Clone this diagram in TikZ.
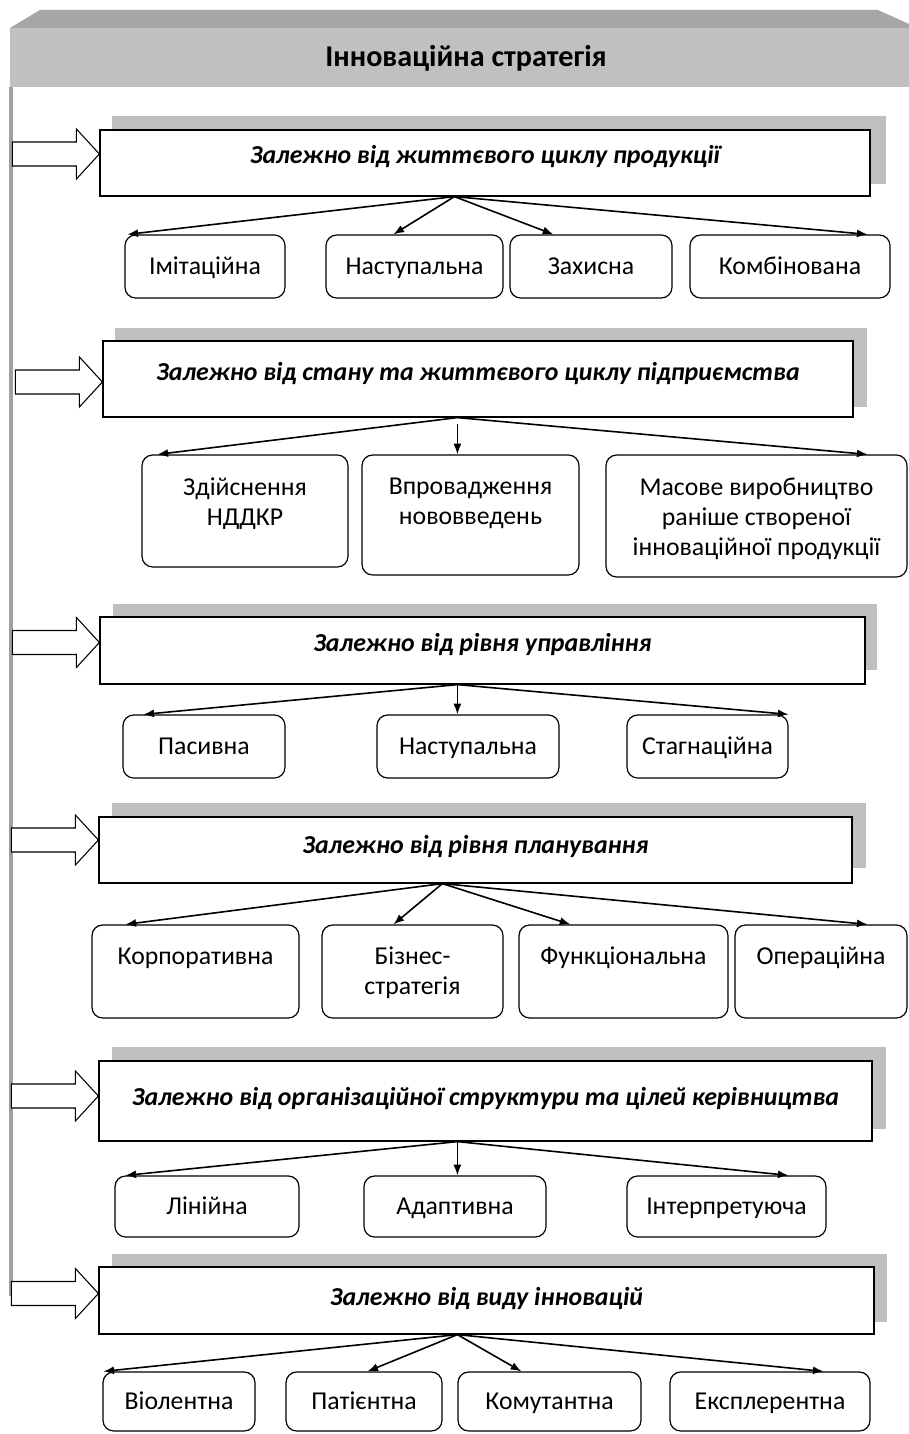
\documentclass[tikz,border=0pt]{standalone}
\usepackage{fontspec}
\setmainfont{Carlito}
\usetikzlibrary{calc,arrows.meta}
\definecolor{hdrdark}{HTML}{A6A6A6}
\definecolor{hdrlight}{HTML}{C0C0C0}
\definecolor{shgray}{HTML}{BFBFBF}
\definecolor{linegray}{HTML}{A0A0A0}
\tikzset{
 shadowbox/.style={fill=shgray, draw=none, inner sep=0pt, outer sep=0pt},
 titlebox/.style={draw=black, fill=white, line width=0.9pt, inner sep=0pt},
 childbox/.style={draw=black, fill=white, line width=0.9pt, rounded corners=8pt, inner sep=0pt},
 titletext/.style={font=\fontsize{19.4}{23}\selectfont\bfseries\itshape, inner sep=0pt, text height=0.84em, text depth=0.06em, yshift=-2pt},
 childtext/.style={font=\fontsize{19.3}{22.5}\selectfont, align=center, inner sep=0pt, text height=0.84em, text depth=0.06em, yshift=-2pt},
 multitext/.style={font=\fontsize{19.3}{22.5}\selectfont, align=center, inner sep=0pt},
 hdrtext/.style={font=\fontsize{22.6}{26}\selectfont\bfseries, inner sep=0pt, text height=0.84em, text depth=0.06em, yshift=-2pt},
 link/.style={line width=1.2pt, -{Latex[length=8pt,width=6pt]}},
 blockarrow/.style={draw=black, fill=white, line width=0.8pt},
}
\newcommand\pbox[6]{\node[#6, minimum width={(#4-#2)*0.75pt}, minimum height={(#5-#3)*0.75pt}] (#1) at ({(#2+#4)/2},{(#3+#5)/2}) {};}
\newcommand\barrow[1]{\draw[blockarrow] ($(#1)+(-87,-12)$) -- ($(#1)+(-23,-12)$) -- ($(#1)+(-23,-25)$) -- (#1) -- ($(#1)+(-23,25)$) -- ($(#1)+(-23,12)$) -- ($(#1)+(-87,12)$) -- cycle;}
\begin{document}
\begin{tikzpicture}[x=0.75pt,y=-0.75pt]
\useasboundingbox (0,0) rectangle (909,1434);
% left vertical line
\coordinate (vtop) at (11,87);
\coordinate (vbot) at (11,1296);
\draw[line width=3pt, linegray] (vtop) -- (vbot);
% header
\fill[hdrdark] (10,28) -- (40,10) -- (878,10) -- (909,24) -- (909,28) -- cycle;
\fill[hdrlight] (10,28) rectangle (909,87);
\node[hdrtext] (hdr) at (466,59) {Інноваційна стратегія};

% ---------- section 1
\pbox{sh1}{112}{116}{886}{184}{shadowbox}
\pbox{s1}{100}{130}{870}{196}{titlebox}
\node[titletext] (s1t) at ($(s1.north)+(0,26)$) {Залежно від життєвого циклу продукції};
\coordinate (a1) at ($(s1.west)+(0,-9)$);
\barrow{a1}
\pbox{c11}{125}{235}{285}{298}{childbox}
\pbox{c12}{326}{235}{503}{298}{childbox}
\pbox{c13}{510}{235}{672}{298}{childbox}
\pbox{c14}{690}{235}{890}{298}{childbox}
\node[childtext] (c11t) at (c11) {Імітаційна};
\node[childtext] (c12t) at (c12) {Наступальна};
\node[childtext] (c13t) at (c13) {Захисна};
\node[childtext] (c14t) at (c14) {Комбінована};
\coordinate (s1o) at ($(s1.south west)+(355,0)$);
\draw[link] (s1o) -- ($(c11.north west)+(3,0)$);
\draw[link] (s1o) -- ($(c12.north west)+(68,0)$);
\draw[link] (s1o) -- ($(c13.north west)+(44,0)$);
\draw[link] (s1o) -- ($(c14.north east)+(-23,0)$);

% ---------- section 2
\pbox{sh2}{115}{328}{867}{407}{shadowbox}
\pbox{s2}{103}{341}{853}{417}{titlebox}
\node[titletext] (s2t) at ($(s2.north)+(0,32)$) {Залежно від стану та життєвого циклу підприємства};
\coordinate (a2) at ($(s2.west)+(0,3)$);
\barrow{a2}
\pbox{c21}{142}{455}{348}{567}{childbox}
\pbox{c22}{362}{455}{579}{575}{childbox}
\pbox{c23}{606}{455}{907}{577}{childbox}
\node[multitext] (c21t) at ($(c21.north)+(0,49)$) {Здійснення\\НДДКР};
\node[multitext] (c22t) at ($(c22.north)+(0,49)$) {Впровадження\\нововведень};
\node[multitext] (c23t) at ($(c23.north)+(0,64)$) {Масове виробництво\\раніше створеної\\інноваційної продукції};
\coordinate (s2o) at ($(s2.south west)+(355,0)$);
\draw[link] (s2o) -- ($(c21.north west)+(16,0)$);
\draw[link] ($(s2o)+(0,6)$) -- (s2o |- c22.north);
\draw[link] (s2o) -- ($(c23.north east)+(-40,0)$);

% ---------- section 3
\pbox{sh3}{113}{604}{877}{670}{shadowbox}
\pbox{s3}{100}{617}{865}{684}{titlebox}
\node[titletext] (s3t) at ($(s3.north)+(0,27)$) {Залежно від рівня управління};
\coordinate (a3) at ($(s3.west)+(0,-8)$);
\barrow{a3}
\pbox{c31}{123}{715}{285}{778}{childbox}
\pbox{c32}{377}{715}{559}{778}{childbox}
\pbox{c33}{627}{715}{788}{778}{childbox}
\node[childtext] (c31t) at (c31) {Пасивна};
\node[childtext] (c32t) at (c32) {Наступальна};
\node[childtext] (c33t) at (c33) {Стагнаційна};
\coordinate (s3o) at ($(s3.south west)+(358,0)$);
\draw[link] (s3o) -- ($(c31.north west)+(21,0)$);
\draw[link] (s3o) -- (s3o |- c32.north);
\draw[link] (s3o) -- ($(c33.north east)+(0,0)$);

% ---------- section 4
\pbox{sh4}{112}{803}{866}{868}{shadowbox}
\pbox{s4}{99}{817}{852}{883}{titlebox}
\node[titletext] (s4t) at ($(s4.north)+(0,29)$) {Залежно від рівня планування};
\coordinate (a4) at ($(s4.west)+(0,-10)$);
\barrow{a4}
\pbox{c41}{92}{925}{299}{1018}{childbox}
\pbox{c42}{322}{925}{503}{1018}{childbox}
\pbox{c43}{519}{925}{728}{1018}{childbox}
\pbox{c44}{735}{925}{907}{1018}{childbox}
\node[childtext] (c41t) at ($(c41.north)+(0,32)$) {Корпоративна};
\node[multitext] (c42t) at ($(c42.north)+(0,48)$) {Бізнес-\\стратегія};
\node[childtext] (c43t) at ($(c43.north)+(0,32)$) {Функціональна};
\node[childtext] (c44t) at ($(c44.north)+(0,32)$) {Операційна};
\coordinate (s4o) at ($(s4.south west)+(344,0)$);
\draw[link] (s4o) -- ($(c41.north west)+(34,0)$);
\draw[link] (s4o) -- ($(c42.north west)+(72,0)$);
\draw[link] (s4o) -- ($(c43.north west)+(52,0)$);
\draw[link] (s4o) -- ($(c44.north east)+(-40,0)$);

% ---------- section 5
\pbox{sh5}{112}{1047}{886}{1129}{shadowbox}
\pbox{s5}{99}{1061}{872}{1141}{titlebox}
\node[titletext] (s5t) at ($(s5.north)+(0,37)$) {Залежно від організаційної структури та цілей керівництва};
\coordinate (a5) at ($(s5.west)+(0,-5)$);
\barrow{a5}
\pbox{c51}{115}{1176}{299}{1237}{childbox}
\pbox{c52}{364}{1176}{546}{1237}{childbox}
\pbox{c53}{627}{1176}{826}{1237}{childbox}
\node[childtext] (c51t) at (c51) {Лінійна};
\node[childtext] (c52t) at (c52) {Адаптивна};
\node[childtext] (c53t) at (c53) {Інтерпретуюча};
\coordinate (s5o) at ($(s5.south west)+(359,0)$);
\draw[link] (s5o) -- ($(c51.north west)+(11,0)$);
\draw[link] (s5o) -- (s5o |- c52.north);
\draw[link] (s5o) -- ($(c53.north east)+(-38,0)$);

% ---------- section 6
\pbox{sh6}{112}{1254}{887}{1322}{shadowbox}
\pbox{s6}{99}{1267}{874}{1334}{titlebox}
\node[titletext] (s6t) at ($(s6.north)+(0,31)$) {Залежно від виду інновацій};
\coordinate (a6) at ($(s6.west)+(0,-7)$);
\barrow{a6}
\pbox{c61}{103}{1372}{255}{1431}{childbox}
\pbox{c62}{286}{1372}{442}{1431}{childbox}
\pbox{c63}{458}{1372}{641}{1431}{childbox}
\pbox{c64}{670}{1372}{870}{1431}{childbox}
\node[childtext] (c61t) at (c61) {Віолентна};
\node[childtext] (c62t) at (c62) {Патієнтна};
\node[childtext] (c63t) at (c63) {Комутантна};
\node[childtext] (c64t) at (c64) {Експлерентна};
\coordinate (s6o) at ($(s6.south west)+(359,0)$);
\draw[link] (s6o) -- ($(c61.north west)+(1,0)$);
\draw[link] (s6o) -- ($(c62.north west)+(82,0)$);
\draw[link] (s6o) -- ($(c63.north west)+(64,0)$);
\draw[link] (s6o) -- ($(c64.north east)+(-47,0)$);
\end{tikzpicture}
\end{document}
